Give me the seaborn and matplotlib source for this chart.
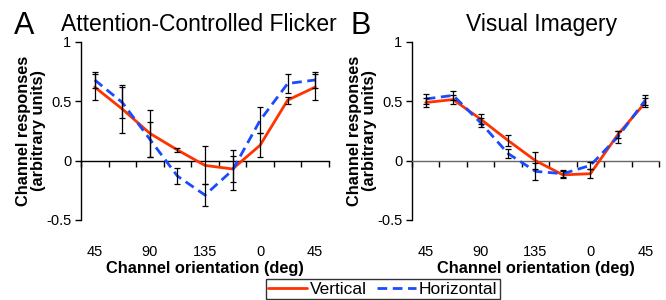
import matplotlib.pyplot as plt
import matplotlib as mpl
import seaborn as sns
import numpy as np
import pandas as pd

# channel orientations (deg), one category per channel
orients = ['45', '67.5', '90', '112.5', '135', '157.5', '0', '22.5', '45 ']
tick_labels = ['45', '', '90', '', '135', '', '0', '', '45']

# A: attention-controlled flicker
a_vert = [0.62, 0.435, 0.23, 0.09, -0.04, -0.07, 0.13, 0.51, 0.62]
a_vert_err = [0.11, 0.20, 0.20, 0.02, 0.16, 0.11, 0.10, 0.03, 0.11]
a_horz = [0.68, 0.49, 0.18, -0.13, -0.29, -0.08, 0.34, 0.65, 0.68]
a_horz_err = [0.07, 0.13, 0.15, 0.07, 0.09, 0.17, 0.11, 0.08, 0.07]

# B: visual imagery
b_vert = [0.49, 0.515, 0.35, 0.17, 0.0, -0.12, -0.11, 0.22, 0.49]
b_vert_err = [0.04, 0.04, 0.04, 0.05, 0.07, 0.03, 0.04, 0.03, 0.04]
b_horz = [0.52, 0.55, 0.32, 0.06, -0.09, -0.11, -0.04, 0.2, 0.51]
b_horz_err = [0.04, 0.04, 0.04, 0.04, 0.07, 0.03, 0.03, 0.05, 0.04]

sns.set_style('white')
mpl.rcParams['font.family'] = ['Liberation Sans', 'DejaVu Sans']
mpl.rcParams['axes.unicode_minus'] = False
for key in ['text.color', 'axes.labelcolor', 'xtick.color', 'ytick.color']:
    mpl.rcParams[key] = 'black'

colors = {'Vertical': '#FF3300', 'Horizontal': '#1A4BFF'}
dashes = {'Vertical': '', 'Horizontal': (3.5, 2)}
label_font = dict(fontsize=11.8, fontweight='bold')


def panel(ax, vert, vert_err, horz, horz_err, title, title_x, letter, letter_x, axis_color):
    x = np.arange(len(orients))
    df = pd.DataFrame({
        'x': np.concatenate([x, x]),
        'y': vert + horz,
        'Orientation': ['Vertical'] * len(x) + ['Horizontal'] * len(x),
    })
    sns.lineplot(data=df, x='x', y='y', hue='Orientation', style='Orientation',
                 palette=colors, dashes=dashes, lw=2, ax=ax, legend=False,
                 zorder=3)
    ax.errorbar(x, vert, yerr=vert_err, fmt='none', ecolor='black', elinewidth=0.9,
                capsize=2.5, capthick=0.9, zorder=4)
    ax.errorbar(x, horz, yerr=horz_err, fmt='none', ecolor='black', elinewidth=0.9,
                capsize=2.5, capthick=0.9, zorder=4)

    ax.set_xlim(-0.5, len(x) - 0.5)
    ax.set_ylim(-0.5, 1)
    ax.set_yticks([-0.5, 0, 0.5, 1])
    ax.set_yticklabels(['-0.5', '0', '0.5', '1'], fontsize=10.5)

    # category axis sits at zero, labels hang below the plot
    ax.spines['top'].set_visible(False)
    ax.spines['right'].set_visible(False)
    ax.spines['bottom'].set_position(('data', 0))
    ax.spines['bottom'].set_color(axis_color)
    ax.spines['left'].set_color('black')
    for s in ['bottom', 'left']:
        ax.spines[s].set_linewidth(1)
    ax.set_xticks(x)
    ax.set_xticklabels(tick_labels, fontsize=10.5)
    ax.set_xticks(np.arange(len(x) + 1) - 0.5, minor=True)
    ax.tick_params(axis='x', which='major', bottom=True, length=0, pad=61)
    ax.tick_params(axis='x', which='minor', bottom=True, length=4, width=1,
                   direction='out', color='black')
    ax.tick_params(axis='y', left=True, length=4, width=1, direction='out',
                   color='black', pad=3)

    ax.set_xlabel('Channel orientation (deg)', labelpad=1, **label_font)
    ax.set_ylabel('Channel responses\n(arbitrary units)', labelpad=0,
                  linespacing=1.0, **label_font)
    ax.set_title(title, x=title_x, pad=8, fontsize=16.5)
    ax.text(letter_x, 1.09, letter, transform=ax.transAxes, fontsize=22,
            ha='left', va='center')


fig = plt.figure(figsize=(6.66, 3.0), dpi=100)
ax_a = fig.add_axes([0.1216, 0.2667, 0.3724, 0.5933])
ax_b = fig.add_axes([0.6186, 0.2667, 0.3709, 0.5933])

panel(ax_a, a_vert, a_vert_err, a_horz, a_horz_err,
      'Attention-Controlled Flicker', 0.476, 'A', -0.27, 'black')
panel(ax_b, b_vert, b_vert_err, b_horz, b_horz_err,
      'Visual Imagery', 0.524, 'B', -0.25, '#666666')

handles = [mpl.lines.Line2D([], [], color=colors['Vertical'], lw=2),
           mpl.lines.Line2D([], [], color=colors['Horizontal'], lw=2, dashes=(3.5, 2))]
leg = fig.legend(handles, ['Vertical', 'Horizontal'], loc='upper center',
                 bbox_to_anchor=(0.575, 0.07), ncol=2, frameon=True, fancybox=False,
                 prop=dict(size=12.5), handlelength=2.2,
                 handletextpad=0.2, columnspacing=0.6, borderpad=0.15,
                 borderaxespad=0)
leg.get_frame().set_edgecolor('black')
leg.get_frame().set_linewidth(1)

fig.savefig('out.png', dpi=100)
